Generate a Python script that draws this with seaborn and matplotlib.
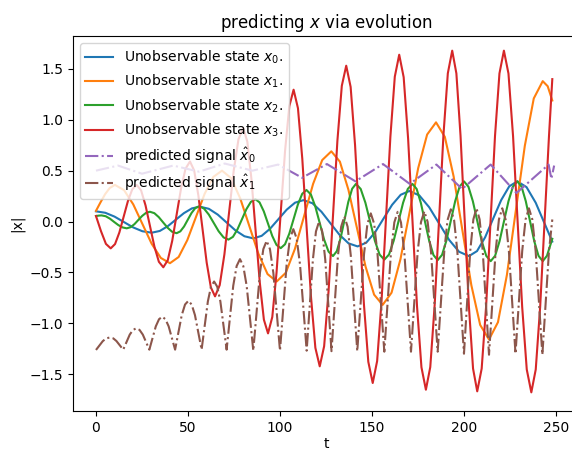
import seaborn as sns
import matplotlib
matplotlib.use("Agg")
import matplotlib.pyplot as plt

# unobservable state x0 (blue)
t_x0 = [0, 5.05, 10.1, 15.15, 20.2, 25.25, 30.3, 34.67, 39.03, 43.4, 47.77, 52.13, 56.5, 61.33,
        66.17, 71, 75.83, 80.67, 85.5, 90.03, 94.57, 99.1, 103.63, 108.17, 112.7, 117.62,
        122.53, 127.45, 132.37, 137.28, 142.2, 146.88, 151.57, 156.25, 160.93, 165.62, 170.3,
        175.7, 181.1, 186.5, 191.9, 197.3, 202.7, 207.08, 211.47, 215.85, 220.23, 224.62, 229,
        234, 239, 244, 248]
x0 = [0.10, 0.086, 0.048, -0.005, -0.058, -0.096, -0.11, -0.093, -0.046, 0.018, 0.082, 0.129,
      0.146, 0.125, 0.068, -0.01, -0.088, -0.145, -0.166, -0.141, -0.072, 0.022, 0.116, 0.185,
      0.21, 0.18, 0.096, -0.018, -0.131, -0.215, -0.245, -0.208, -0.109, 0.028, 0.164, 0.263,
      0.30, 0.257, 0.14, -0.02, -0.18, -0.297, -0.34, -0.291, -0.156, 0.028, 0.211, 0.346,
      0.395, 0.338, 0.184, -0.028, -0.197]

# unobservable state x1 (orange)
t_x1 = [0, 2.5, 5, 7.5, 10.3, 15.28, 20.27, 25.25, 30.23, 35.22, 40.2, 44.92, 49.63, 54.35,
        59.07, 63.78, 68.5, 73.45, 78.4, 83.35, 88.3, 93.25, 98.2, 103.15, 108.1, 113.05, 118.0,
        122.95, 127.9, 132.55, 137.2, 141.85, 146.5, 151.15, 155.8, 160.63, 165.47, 170.3,
        175.13, 179.97, 184.8, 189.6, 194.4, 199.2, 204.0, 208.8, 213.6, 218.47, 223.33, 228.2,
        233.07, 237.93, 242.8, 245.5, 248]
x1 = [0.105, 0.19, 0.27, 0.33, 0.36, 0.308, 0.168, -0.025, -0.218, -0.358, -0.41, -0.349,
      -0.183, 0.045, 0.273, 0.439, 0.50, 0.427, 0.227, -0.045, -0.318, -0.517, -0.59, -0.504,
      -0.27, 0.05, 0.37, 0.604, 0.69, 0.589, 0.312, -0.065, -0.443, -0.719, -0.82, -0.70,
      -0.371, 0.078, 0.526, 0.855, 0.975, 0.832, 0.441, -0.093, -0.626, -1.017, -1.16, -0.99,
      -0.525, 0.11, 0.745, 1.21, 1.38, 1.33, 1.19]

# unobservable state x2 (green)
t_x2 = [0, 1.5, 3, 5.28, 7.57, 9.85, 12.13, 14.42, 16.7, 18.8, 20.9, 23.0, 25.1, 27.2, 29.3,
        31.72, 34.13, 36.55, 38.97, 41.38, 43.8, 45.83, 47.87, 49.9, 51.93, 53.97, 56, 58.67,
        61.33, 64.0, 66.67, 69.33, 72, 74.43, 76.87, 79.3, 81.73, 84.17, 86.6, 88.9, 91.2, 93.5,
        95.8, 98.1, 100.4, 102.73, 105.07, 107.4, 109.73, 112.07, 114.4, 116.8, 119.2, 121.6,
        124.0, 126.4, 128.8, 130.88, 132.97, 135.05, 137.13, 139.22, 141.3, 143.87, 146.43,
        149.0, 151.57, 154.13, 156.7, 159.25, 161.8, 164.35, 166.9, 169.45, 172, 174.28,
        176.57, 178.85, 181.13, 183.42, 185.7, 188.08, 190.47, 192.85, 195.23, 197.62, 200,
        202.42, 204.83, 207.25, 209.67, 212.08, 214.5, 216.92, 219.33, 221.75, 224.17, 226.58,
        229, 231.3, 233.6, 235.9, 238.2, 240.5, 242.8, 245.1, 248]
x2 = [0.054, 0.058, 0.06, 0.052, 0.028, -0.004, -0.035, -0.058, -0.067, -0.056, -0.026, 0.015,
      0.055, 0.085, 0.096, 0.082, 0.043, -0.01, -0.062, -0.101, -0.115, -0.097, -0.049, 0.018,
      0.084, 0.132, 0.15, 0.128, 0.068, -0.014, -0.096, -0.156, -0.178, -0.151, -0.078, 0.021,
      0.121, 0.193, 0.22, 0.188, 0.10, -0.021, -0.142, -0.23, -0.262, -0.224, -0.119, 0.024,
      0.167, 0.272, 0.31, 0.266, 0.147, -0.015, -0.178, -0.296, -0.34, -0.292, -0.162, 0.015,
      0.193, 0.322, 0.37, 0.32, 0.184, -0.003, -0.189, -0.325, -0.375, -0.325, -0.189, -0.003,
      0.184, 0.32, 0.37, 0.32, 0.182, -0.005, -0.193, -0.33, -0.38, -0.328, -0.186, 0.008,
      0.201, 0.343, 0.395, 0.342, 0.199, 0.003, -0.194, -0.337, -0.39, -0.337, -0.194, 0.003,
      0.199, 0.342, 0.395, 0.342, 0.199, 0.003, -0.194, -0.337, -0.39, -0.337, -0.17]

# unobservable state x3 (red)
t_x3 = [0, 2.7, 5.4, 8, 10.35, 12.7, 15.05, 17.4, 19.75, 22.1, 24.52, 26.93, 29.35, 31.77,
        34.18, 36.6, 39.02, 41.43, 43.85, 46.27, 48.68, 51.1, 53.37, 55.63, 57.9, 60.17, 62.43,
        64.7, 67.25, 69.8, 72.35, 74.9, 77.45, 80, 82.25, 84.5, 86.75, 89.0, 91.25, 93.5, 95.82,
        98.13, 100.45, 102.77, 105.08, 107.4, 109.77, 112.13, 114.5, 116.87, 119.23, 121.6,
        124.0, 126.4, 128.8, 131.2, 133.6, 136, 138.4, 140.8, 143.2, 145.6, 148.0, 150.4, 152.8,
        155.2, 157.6, 160.0, 162.4, 164.8, 167.22, 169.63, 172.05, 174.47, 176.88, 179.3,
        181.68, 184.07, 186.45, 188.83, 191.22, 193.6, 195.87, 198.13, 200.4, 202.67, 204.93,
        207.2, 209.62, 212.03, 214.45, 216.87, 219.28, 221.7, 224.18, 226.67, 229.15, 231.63,
        234.12, 236.6, 239.0, 241.4, 243.8, 246.2, 248.0]
x3 = [0.054, -0.094, -0.22, -0.264, -0.222, -0.108, 0.048, 0.204, 0.318, 0.36, 0.306, 0.158,
      -0.045, -0.248, -0.396, -0.45, -0.38, -0.19, 0.07, 0.33, 0.52, 0.59, 0.501, 0.258,
      -0.073, -0.405, -0.647, -0.736, -0.625, -0.322, 0.092, 0.506, 0.809, 0.92, 0.785, 0.415,
      -0.09, -0.595, -0.965, -1.10, -0.939, -0.501, 0.098, 0.697, 1.135, 1.296, 1.114, 0.616,
      -0.064, -0.744, -1.242, -1.424, -1.226, -0.685, 0.054, 0.793, 1.334, 1.532, 1.323,
      0.752, -0.028, -0.808, -1.379, -1.588, -1.372, -0.781, 0.026, 0.833, 1.424, 1.64, 1.419,
      0.816, -0.007, -0.831, -1.433, -1.654, -1.431, -0.82, 0.013, 0.847, 1.457, 1.68, 1.456,
      0.842, 0.005, -0.833, -1.446, -1.67, -1.446, -0.833, 0.005, 0.843, 1.456, 1.68, 1.455,
      0.84, 0.0, -0.84, -1.455, -1.68, -1.455, -0.84, 0.0, 0.84, 1.40]

# predicted signal x_hat0 (purple)
t_p0 = [0, 12, 25, 42, 56, 70, 85, 99, 112, 125.5, 141, 156, 170.5, 185, 199, 214.5, 228.5,
        246, 247.5, 249]
p0 = [0.5, 0.55, 0.47, 0.55, 0.49, 0.57, 0.5, 0.56, 0.43, 0.565, 0.395, 0.565, 0.37, 0.56,
      0.32, 0.56, 0.28, 0.56, 0.42, 0.55]

# predicted signal x_hat1 (brown)
t_p1 = [0, 3.7, 5.55, 7.6, 9.4, 11.1, 14.8, 18.35, 20.13, 21.9, 23.68, 25.45, 29, 32.5, 34.25,
        36, 37.75, 39.5, 43, 46.6, 48.4, 50.2, 52.0, 53.8, 57.4, 60.8, 62.5, 64.2, 65.9, 67.6,
        71, 74.6, 76.44, 78.25, 80.06, 81.9, 85.5, 89.1, 90.94, 92.75, 94.56, 96.4, 100, 103.6,
        105.44, 107.25, 109.06, 110.9, 114.5, 117.9, 119.56, 121.25, 122.94, 124.6, 128, 131.5,
        133.25, 135, 136.75, 138.5, 142, 145.7, 147.51, 149.35, 151.19, 153, 156.7, 160.3,
        162.14, 163.95, 165.76, 167.6, 171.2, 174.8, 176.64, 178.45, 180.26, 182.1, 185.7,
        189.3, 191.06, 192.85, 194.64, 196.4, 200, 203.4, 205.1, 206.8, 208.5, 210.2, 213.6,
        217.2, 219.0, 220.8, 222.6, 224.4, 228, 231.65, 233.48, 235.3, 237.13, 238.95, 242.6,
        246.2, 248]
p1 = [-1.263, -1.176, -1.149, -1.14, -1.149, -1.175, -1.26, -1.112, -1.066, -1.05, -1.066,
      -1.112, -1.26, -1.031, -0.961, -0.936, -0.961, -1.031, -1.26, -0.921, -0.816, -0.78,
      -0.816, -0.921, -1.26, -0.786, -0.641, -0.59, -0.641, -0.786, -1.26, -0.631, -0.438,
      -0.37, -0.438, -0.634, -1.27, -0.506, -0.272, -0.19, -0.272, -0.506, -1.27, -0.425,
      -0.166, -0.075, -0.166, -0.425, -1.27, -0.372, -0.097, 0.0, -0.097, -0.374, -1.275,
      -0.338, -0.051, 0.05, -0.051, -0.338, -1.275, -0.317, -0.023, 0.08, -0.023, -0.318,
      -1.28, -0.308, -0.009, 0.095, -0.009, -0.308, -1.28, -0.304, -0.005, 0.10, -0.005,
      -0.304, -1.28, -0.29, 0.014, 0.12, 0.012, -0.296, -1.30, -0.289, 0.021, 0.13, 0.021,
      -0.292, -1.31, -0.292, 0.021, 0.13, 0.021, -0.289, -1.30, -0.289, 0.021, 0.13, 0.021,
      -0.292, -1.31, -0.29, 0.02]

fig = plt.figure(figsize=(5.72, 4.5), dpi=100)
ax = fig.add_axes([0.1276, 0.0867, 0.8846, 0.8333])

states = [(t_x0, x0, "Unobservable state $x_0$.", "C0"),
          (t_x1, x1, "Unobservable state $x_1$.", "C1"),
          (t_x2, x2, "Unobservable state $x_2$.", "C2"),
          (t_x3, x3, "Unobservable state $x_3$.", "C3")]
for tt, vv, lab, col in states:
    sns.lineplot(x=tt, y=vv, ax=ax, label=lab, color=col, linewidth=1.5)

sns.lineplot(x=t_p0, y=p0, ax=ax, label=r"predicted signal $\hat{x}_0$", color="C4",
             linestyle="-.", linewidth=1.5)
sns.lineplot(x=t_p1, y=p1, ax=ax, label=r"predicted signal $\hat{x}_1$", color="C5",
             linestyle="-.", linewidth=1.5)

ax.set_xlim(-12.5, 262.5)
ax.set_ylim(-1.863, 1.824)
ax.set_title("predicting $x$ via evolution")
ax.set_xlabel("t", labelpad=2)
ax.set_ylabel("|x|")
ax.legend(loc="upper left")

plt.savefig("out.png", dpi=100)
